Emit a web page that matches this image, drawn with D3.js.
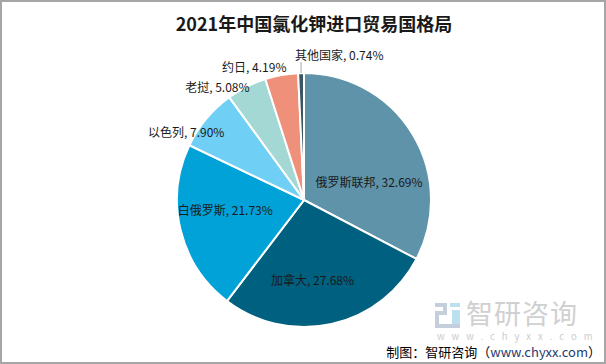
<!DOCTYPE html>
<html>
<head>
<meta charset="utf-8">
<script src="https://cdn.jsdelivr.net/npm/d3@7"></script>
<style>
  body { margin: 0; background: #fff; }
  svg { display: block; font-family: "Noto Sans CJK SC", "Noto Sans", sans-serif; }
</style>
</head>
<body>
<svg id="chart" width="606" height="364"></svg>
<script>
// data
var countries = ["俄罗斯联邦", "加拿大", "白俄罗斯", "以色列", "老挝", "约日", "其他国家"];
var shares = [32.69, 27.68, 21.73, 7.90, 5.08, 4.19, 0.74];
var colors = ["#5e93aa", "#00607f", "#00a2d8", "#6fcff5", "#a3d8d5", "#ee907a", "#3b5563"];

// label placement: inside (centroid) or outside (edge), plus small nudges
var labelInside = [true, true, true, false, false, false, false];
var labelNudge = [[0, 22], [-9, 2], [0, -8], [18, 14], [3, 1], [5, -7], [-6, -17]];

var width = 606, height = 364;
var cx = 304, cy = 200, R = 127;

var svg = d3.select("#chart");

// frame
svg.append("rect")
    .attr("x", 1).attr("y", 1)
    .attr("width", width - 2).attr("height", height - 2)
    .attr("fill", "#fff")
    .attr("stroke", "#a6a6a6")
    .attr("stroke-width", 2);

// title
svg.append("text")
    .attr("x", 314)
    .attr("y", 31)
    .attr("text-anchor", "middle")
    .style("font-size", "18px")
    .style("font-weight", "bold")
    .style("fill", "#1a1a1a")
    .text("2021年中国氯化钾进口贸易国格局");

// watermark
var wm = svg.append("g").attr("class", "watermark");
wm.append("rect").attr("x", 435).attr("y", 303).attr("width", 12).attr("height", 4).attr("fill", "#c5cedb");
wm.append("rect").attr("x", 443).attr("y", 303).attr("width", 4).attr("height", 12).attr("fill", "#c5cedb");
wm.append("rect").attr("x", 435).attr("y", 311).attr("width", 12).attr("height", 4).attr("fill", "#c5cedb");
wm.append("rect").attr("x", 435).attr("y", 311).attr("width", 4).attr("height", 17).attr("fill", "#c5cedb");
wm.append("rect").attr("x", 435).attr("y", 324).attr("width", 25).attr("height", 4).attr("fill", "#c5cedb");
wm.append("rect").attr("x", 450).attr("y", 303).attr("width", 10).attr("height", 4).attr("fill", "#bde0f0");
wm.append("rect").attr("x", 452).attr("y", 310).attr("width", 8).attr("height", 14).attr("fill", "#bde0f0");
wm.append("text")
    .attr("x", 466).attr("y", 324)
    .style("font-size", "27px")
    .style("letter-spacing", "1px")
    .style("fill", "#d0d0d0")
    .text("智研咨询");
wm.append("text")
    .attr("x", 437).attr("y", 340)
    .style("font-size", "9.5px")
    .style("letter-spacing", "7px")
    .style("fill", "#cccccc")
    .text("www.chyxx.com");

// pie
var pie = d3.pie().sort(null).value(function(d) { return d; });
var arcs = pie(shares);

var arc = d3.arc().innerRadius(0).outerRadius(R);

var g = svg.append("g").attr("transform", "translate(" + cx + "," + cy + ")");

g.selectAll("path.slice")
    .data(arcs)
    .enter()
    .append("path")
    .classed("slice", true)
    .attr("d", arc)
    .attr("fill", function(d, i) { return colors[i]; })
    .attr("stroke", "#fff")
    .attr("stroke-width", 2);

function midAngle(d) { return (d.startAngle + d.endAngle) / 2; }

function labelPos(d, i) {
    var a = midAngle(d);
    var r = labelInside[i] ? (i == 0 ? 76 : 81) : R;
    var x = Math.sin(a) * r + labelNudge[i][0];
    var y = -Math.cos(a) * r + labelNudge[i][1];
    return [x, y];
}

function labelAnchor(d, i) {
    if (labelInside[i]) return "middle";
    if (i == countries.length - 1) return "start";
    return "end";
}

// leader line for the tiny slice
var last = arcs[arcs.length - 1];
var la = midAngle(last);
g.append("line")
    .attr("x1", Math.sin(la) * R)
    .attr("y1", -Math.cos(la) * R)
    .attr("x2", Math.sin(la) * R)
    .attr("y2", -Math.cos(la) * R - 11)
    .attr("stroke", "#a6a6a6")
    .attr("stroke-width", 1);

g.selectAll("text.label")
    .data(arcs)
    .enter()
    .append("text")
    .classed("label", true)
    .attr("x", function(d, i) { return labelPos(d, i)[0]; })
    .attr("y", function(d, i) { return labelPos(d, i)[1]; })
    .attr("dy", "0.35em")
    .attr("text-anchor", labelAnchor)
    .style("font-size", "12px")
    .style("fill", "#1a1a1a")
    .text(function(d, i) { return countries[i] + ", " + shares[i].toFixed(2) + "%"; });

// source line
var src = svg.append("text")
    .attr("x", 601)
    .attr("y", 357)
    .attr("text-anchor", "end")
    .style("font-size", "13px")
    .style("fill", "#000");
src.append("tspan").text("制图：智研咨询（");
src.append("tspan").style("fill", "#1f3b70").text("www.chyxx.com");
src.append("tspan").text("）");
</script>
</body>
</html>
